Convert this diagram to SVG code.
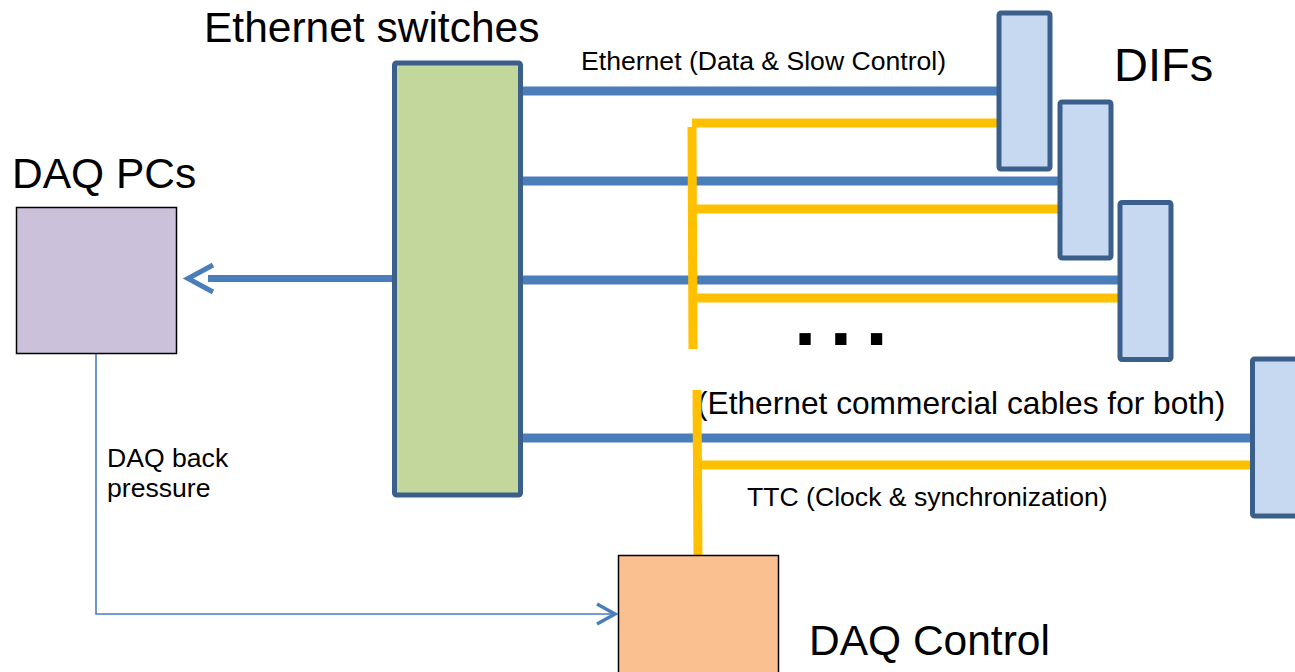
<svg xmlns="http://www.w3.org/2000/svg" width="1295" height="672" viewBox="0 0 1295 672">
  <style>
    .label { font-family: "Liberation Sans", Arial, sans-serif; fill: #000; }
    .big { font-size: 42.5px; }
    .small { font-size: 26.6px; }
    .eth { stroke: #4A7EBB; stroke-width: 9; fill: none; }
    .ttc { stroke: #FFC000; stroke-width: 9; fill: none; }
    .dif { fill: #C6D9F1; stroke: #3A5F8B; stroke-width: 5; }
  </style>
  <rect width="1295" height="672" fill="#FFFFFF"/>

  <!-- cable note sits beneath the TTC riser -->
  <text id="cable-note" class="label" x="697" y="414" font-size="31.7">(Ethernet commercial cables for both)</text>

  <!-- cabling between switches, DIFs and control -->
  <g id="connectors">
    <!-- Ethernet links -->
    <line class="eth" x1="521" y1="91" x2="999" y2="91"/>
    <line class="eth" x1="521" y1="181" x2="1060" y2="181"/>
    <line class="eth" x1="521" y1="280" x2="1120" y2="280"/>
    <line class="eth" x1="521" y1="438" x2="1252" y2="438"/>
    <!-- TTC links -->
    <line class="ttc" x1="692" y1="123" x2="999" y2="123"/>
    <line class="ttc" x1="692" y1="209" x2="1060" y2="209"/>
    <line class="ttc" x1="692" y1="298" x2="1120" y2="298"/>
    <line class="ttc" x1="697" y1="465" x2="1252" y2="465"/>
    <line class="ttc" x1="692" y1="127" x2="693" y2="349"/>
    <line class="ttc" x1="697" y1="390" x2="698" y2="555"/>
    <!-- switches to DAQ PCs -->
    <line stroke="#4A7EBB" stroke-width="7" x1="208" y1="278.5" x2="394" y2="278.5"/>
    <polyline points="213,265 188,278.5 213,292" fill="none" stroke="#4A7EBB" stroke-width="5"/>
    <!-- back pressure to DAQ Control -->
    <polyline points="96,353 96,614 614,614" fill="none" stroke="#4A7EBB" stroke-width="1.6"/>
    <polyline points="597,604 615,614 597,624" fill="none" stroke="#4A7EBB" stroke-width="3.5"/>
  </g>

  <g id="switches">
    <rect x="394.5" y="63" width="126" height="432" rx="2" fill="#C3D69B" stroke="#3A5F8B" stroke-width="5"/>
    <text class="label big" x="204" y="42">Ethernet switches</text>
  </g>

  <g id="daq-pcs">
    <rect x="16.5" y="207.5" width="160" height="146" fill="#CCC1DA" stroke="#000" stroke-width="1.5"/>
    <text class="label big" x="12" y="188">DAQ PCs</text>
  </g>

  <g id="daq-control">
    <rect x="618.5" y="555.5" width="160" height="130" fill="#FAC090" stroke="#000" stroke-width="1.5"/>
    <text class="label big" x="809" y="655">DAQ Control</text>
  </g>

  <g id="dif-1"><rect class="dif" x="999" y="13" width="51" height="156" rx="2"/></g>
  <g id="dif-2"><rect class="dif" x="1060" y="102" width="51" height="156" rx="2"/></g>
  <g id="dif-3"><rect class="dif" x="1120" y="202.5" width="51" height="157" rx="2"/></g>
  <g id="dif-4"><rect class="dif" x="1252.5" y="359" width="51" height="157" rx="2"/></g>

  <g id="labels">
    <text class="label" x="1114" y="81" font-size="47">DIFs</text>
    <text class="label small" x="581" y="70">Ethernet (Data &amp; Slow Control)</text>
    <text class="label small" x="747" y="506">TTC (Clock &amp; synchronization)</text>
    <text class="label small" x="107" y="467">DAQ back</text>
    <text class="label small" x="107" y="497">pressure</text>
    <text class="label" x="794" y="345" font-size="80" font-weight="bold" letter-spacing="13.5">...</text>
  </g>
</svg>
